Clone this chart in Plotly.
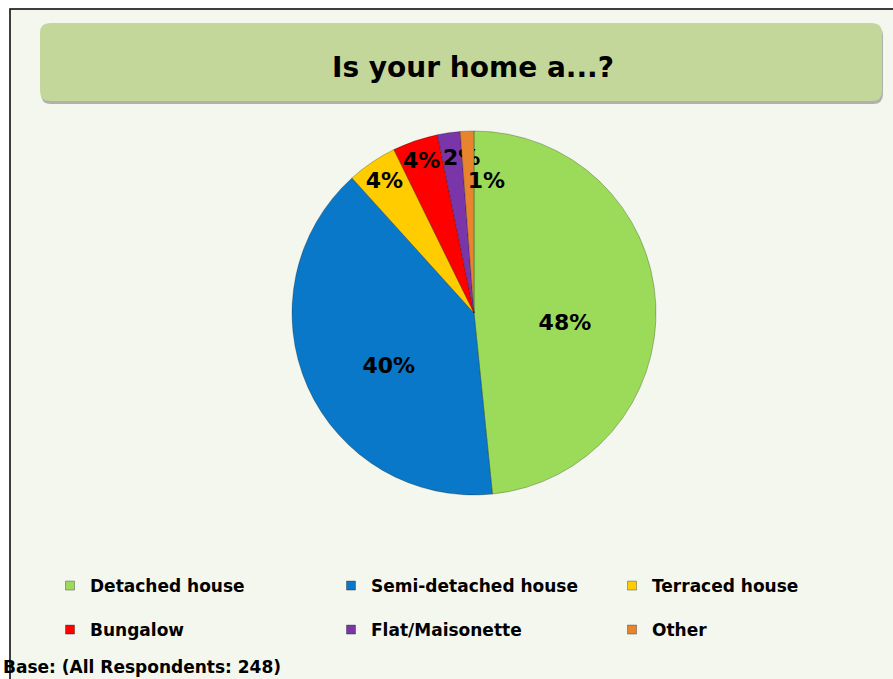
import plotly.graph_objects as go

# Is your home a...? (All respondents: 248)
labels = ["Detached house", "Semi-detached house", "Terraced house",
          "Bungalow", "Flat/Maisonette", "Other"]
counts = [120, 99, 11, 10, 5, 3]
pct_text = ["48%", "40%", "4%", "4%", "2%", "1%"]
colors = ["#9CDB5A", "#0A78C8", "#FFCC00", "#FF0000", "#7A35A8", "#E8832E"]

# blank lines / spaces nudge the crowded labels like the original layout
NB = "\u00a0"
label_text = [
    f"{NB}<br>{pct_text[0]}",
    f"{NB}<br>{pct_text[1]}",
    pct_text[2],
    pct_text[3],
    f"{NB}<br>{NB * 3}{pct_text[4]}",
    f"{NB}<br>{NB}<br>{NB}<br>{NB * 5}{pct_text[5]}",
]

W, H = 893, 679
FONT = "DejaVu Sans, Verdana, sans-serif"


def px_x(v):
    return v / W


def px_y(v):
    return 1 - v / H


def rounded_rect(x0, y0, x1, y1, r):
    pts = [
        f"M {px_x(x0 + r)},{px_y(y0)}",
        f"L {px_x(x1 - r)},{px_y(y0)}",
        f"Q {px_x(x1)},{px_y(y0)} {px_x(x1)},{px_y(y0 + r)}",
        f"L {px_x(x1)},{px_y(y1 - r)}",
        f"Q {px_x(x1)},{px_y(y1)} {px_x(x1 - r)},{px_y(y1)}",
        f"L {px_x(x0 + r)},{px_y(y1)}",
        f"Q {px_x(x0)},{px_y(y1)} {px_x(x0)},{px_y(y1 - r)}",
        f"L {px_x(x0)},{px_y(y0 + r)}",
        f"Q {px_x(x0)},{px_y(y0)} {px_x(x0 + r)},{px_y(y0)} Z",
    ]
    return " ".join(pts)


fig = go.Figure()
fig.add_trace(go.Pie(
    labels=labels, values=counts, text=label_text,
    textinfo="text", textposition="inside",
    insidetextorientation="horizontal",
    textfont=dict(family=FONT, size=22, color="black", weight="bold"),
    marker=dict(colors=colors, line=dict(color="rgba(0,0,0,0.25)", width=1)),
    sort=False, direction="clockwise", rotation=0,
    domain=dict(x=[px_x(292), px_x(656)], y=[px_y(495), px_y(131)]),
    hoverinfo="label+percent", showlegend=False,
))

# legend entries, two rows of three
for i, (lab, col) in enumerate(zip(labels, colors)):
    fig.add_trace(go.Scatter(
        x=[None], y=[None], mode="markers", name=lab,
        marker=dict(symbol="square", size=9, color=col,
                    line=dict(color="rgba(0,0,0,0.3)", width=1)),
        legend="legend" if i < 3 else "legend2",
    ))

shapes = [
    dict(type="rect", xref="paper", yref="paper",
         x0=px_x(10), x1=px_x(905), y0=px_y(690), y1=px_y(9),
         fillcolor="#F4F7EE", line=dict(color="black", width=1.5), layer="below"),
    dict(type="path", xref="paper", yref="paper",
         path=rounded_rect(41, 26, 883, 104, 10),
         fillcolor="rgba(90,90,90,0.45)", line=dict(width=0), layer="below"),
    dict(type="path", xref="paper", yref="paper",
         path=rounded_rect(40, 23, 882, 101, 10),
         fillcolor="#C4D79B", line=dict(width=0), layer="below"),
]

legend_common = dict(
    orientation="h", xanchor="left", yanchor="middle",
    entrywidth=236, entrywidthmode="pixels",
    font=dict(family=FONT, size=17, color="black", weight="bold"),
    bgcolor="rgba(0,0,0,0)", itemclick=False, itemdoubleclick=False,
)

fig.update_layout(
    width=W, height=H,
    margin=dict(l=0, r=0, t=0, b=0),
    paper_bgcolor="white", plot_bgcolor="rgba(0,0,0,0)",
    shapes=shapes,
    font=dict(family=FONT, color="black"),
    uniformtext=dict(minsize=22, mode="show"),
    xaxis=dict(visible=False), yaxis=dict(visible=False),
    legend=dict(x=px_x(58), y=px_y(586), **legend_common),
    legend2=dict(x=px_x(58), y=px_y(630), **legend_common),
    annotations=[
        dict(text="Is your home a...?", xref="paper", yref="paper",
             x=px_x(473), y=px_y(68), xanchor="center", yanchor="middle",
             showarrow=False,
             font=dict(family=FONT, size=28, color="black", weight="bold")),
        dict(text="Base: (All Respondents: 248)", xref="paper", yref="paper",
             x=px_x(1), y=px_y(667), xanchor="left", yanchor="middle", showarrow=False,
             font=dict(family=FONT, size=17, color="black", weight="bold")),
    ],
)

fig.write_html("out.html", config={"displayModeBar": False},
               post_script="document.body.style.margin='0';")
